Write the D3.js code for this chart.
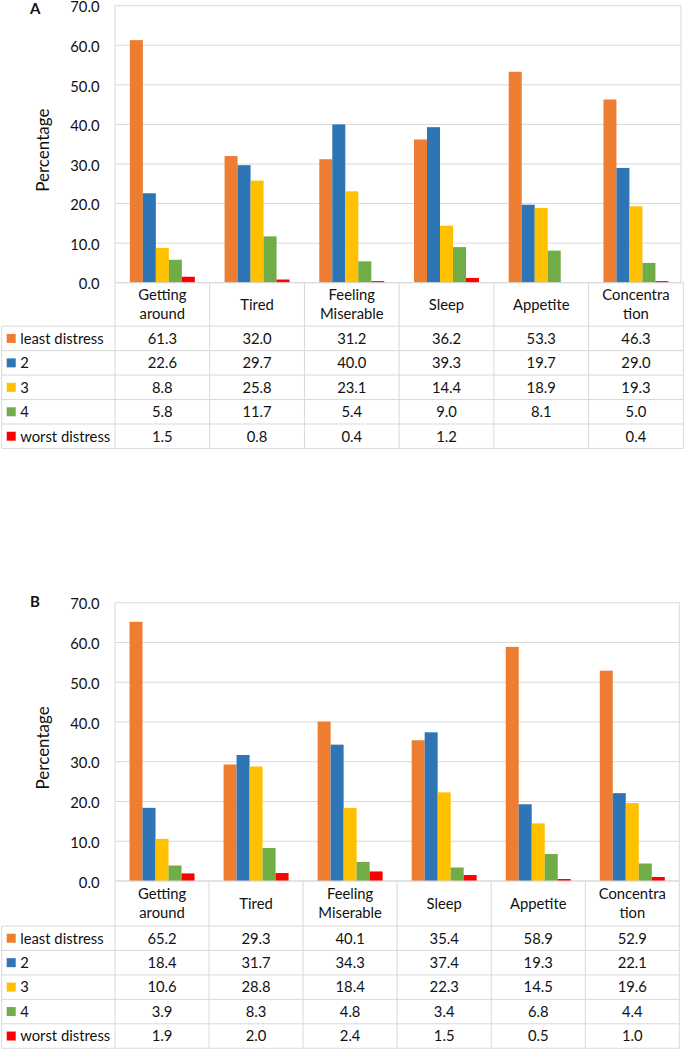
<!DOCTYPE html>
<html><head><meta charset="utf-8">
<script src="https://cdn.jsdelivr.net/npm/d3@7"></script>
<style>
html,body{margin:0;padding:0;background:#fff;}
svg{display:block;font-family:Lato, "Noto Sans", sans-serif;}
</style></head>
<body>
<svg id="chart" width="685" height="1050"></svg>
<script>
const categories = ["Getting around","Tired","Feeling Miserable","Sleep","Appetite","Concentration"];
const categoryLines = [["Getting","around"],["Tired"],["Feeling","Miserable"],["Sleep"],["Appetite"],["Concentra","tion"]];
const seriesNames = ["least distress","2","3","4","worst distress"];
const seriesColors = ["#ED7D31","#2E75B6","#FFC000","#70AD47","#FF0000"];
const yTicks = [0,10,20,30,40,50,60,70];

const A_least = [61.3,32.0,31.2,36.2,53.3,46.3];
const A_2     = [22.6,29.7,40.0,39.3,19.7,29.0];
const A_3     = [8.8,25.8,23.1,14.4,18.9,19.3];
const A_4     = [5.8,11.7,5.4,9.0,8.1,5.0];
const A_worst = [1.5,0.8,0.4,1.2,null,0.4];

const B_least = [65.2,29.3,40.1,35.4,58.9,52.9];
const B_2     = [18.4,31.7,34.3,37.4,19.3,22.1];
const B_3     = [10.6,28.8,18.4,22.3,14.5,19.6];
const B_4     = [3.9,8.3,4.8,3.4,6.8,4.4];
const B_worst = [1.9,2.0,2.4,1.5,0.5,1.0];

const svg = d3.select("#chart");
const GRID = "#d9d9d9";
const TXT = "#111";
const FS = 14.8;

function drawPanel(cfg){
  const {letter, series, top, bottom, left, right, plotRight, headerH, rowH, tableLeft, letterY} = cfg;
  const g = svg.append("g");
  const y = d3.scaleLinear().domain([0,70]).range([bottom, top]);
  const x = d3.scaleBand().domain(categories).range([left, right]);
  const colW = x.bandwidth();
  const barW = 13;
  const po = (colW/barW - seriesNames.length)/2;
  const xs = d3.scaleBand().domain(seriesNames).range([0, colW]).paddingInner(0).paddingOuter(po);

  // gridlines
  g.append("g").selectAll("line").data(yTicks).join("line")
    .attr("x1", left).attr("x2", plotRight)
    .attr("y1", d=>y(d)).attr("y2", d=>y(d))
    .attr("stroke", GRID).attr("stroke-width",1);
  // plot borders
  g.append("line").attr("x1",left).attr("x2",left).attr("y1",top).attr("y2",bottom+headerH+rowH*5).attr("stroke",GRID);
  g.append("line").attr("x1",plotRight).attr("x2",plotRight).attr("y1",top).attr("y2",bottom).attr("stroke",GRID);

  // y tick labels
  g.append("g").selectAll("text").data(yTicks).join("text")
    .attr("x", left-15.5).attr("y", d=>y(d)).attr("dy","0.45em")
    .attr("text-anchor","end").attr("font-size",FS).attr("fill",TXT)
    .text(d=>d3.format(".1f")(d));

  // y label
  g.append("text")
    .attr("transform",`translate(49,${(top+bottom)/2+6}) rotate(-90)`)
    .attr("text-anchor","middle").attr("font-size",17).attr("fill",TXT)
    .text("Percentage");

  // panel letter
  g.append("text").attr("x",30).attr("y",letterY).attr("font-size",15).attr("font-weight","bold")
    .attr("fill",TXT).text(letter);

  // bars
  series.forEach((vals, si) => {
    g.append("g").selectAll("rect").data(vals.map((v,i)=>({v, c:categories[i]})).filter(d=>d.v!=null)).join("rect")
      .attr("x", d=>x(d.c)+xs(seriesNames[si]))
      .attr("width", xs.bandwidth())
      .attr("y", d=>y(d.v))
      .attr("height", d=>y(0)-y(d.v))
      .attr("fill", seriesColors[si]);
  });

  // table
  const tableBottom = bottom + headerH + rowH*seriesNames.length;
  const tg = g.append("g");
  categories.forEach((c,i)=>{
    tg.append("line").attr("x1",x(c)+colW).attr("x2",x(c)+colW)
      .attr("y1",bottom).attr("y2",tableBottom).attr("stroke",GRID);
  });
  tg.append("line").attr("x1",left).attr("x2",right).attr("y1",bottom).attr("y2",bottom).attr("stroke",GRID);
  for(let r=0;r<=seriesNames.length;r++){
    const yy = bottom+headerH+rowH*r;
    tg.append("line").attr("x1",tableLeft).attr("x2",right).attr("y1",yy).attr("y2",yy).attr("stroke",GRID);
  }
  tg.append("line").attr("x1",tableLeft).attr("x2",tableLeft).attr("y1",bottom+headerH).attr("y2",tableBottom).attr("stroke",GRID);

  categories.forEach((c,i)=>{
    const lines = categoryLines[i];
    const cy = bottom + headerH/2;
    const lh = 19;
    lines.forEach((ln,j)=>{
      tg.append("text").attr("x", x(c)+colW/2)
        .attr("y", cy + (j-(lines.length-1)/2)*lh).attr("dy","0.36em")
        .attr("text-anchor","middle").attr("font-size",FS).attr("fill",TXT).text(ln);
    });
  });

  seriesNames.forEach((s,si)=>{
    const cy = bottom+headerH+rowH*si+rowH/2;
    tg.append("rect").attr("x",tableLeft+5).attr("y",cy-4.5).attr("width",9).attr("height",9).attr("fill",seriesColors[si]);
    tg.append("text").attr("x",tableLeft+18.5).attr("y",cy).attr("dy","0.36em")
      .attr("font-size",FS).attr("fill",TXT).text(s);
    series[si].forEach((v,i)=>{
      if(v==null) return;
      tg.append("text").attr("x",x(categories[i])+colW/2).attr("y",cy).attr("dy","0.36em")
        .attr("text-anchor","middle").attr("font-size",FS).attr("fill",TXT).text(d3.format(".1f")(v));
    });
  });
}

drawPanel({letter:"A", series:[A_least,A_2,A_3,A_4,A_worst], top:5.7, bottom:282.7, left:115, right:683.3, plotRight:681, headerH:43.5, rowH:24.45, tableLeft:1.7, letterY:13.5});
drawPanel({letter:"B", series:[B_least,B_2,B_3,B_4,B_worst], top:602.7, bottom:881, left:115, right:679.3, plotRight:679.3, headerH:45, rowH:24.45, tableLeft:1.7, letterY:607});
</script>
</body></html>
